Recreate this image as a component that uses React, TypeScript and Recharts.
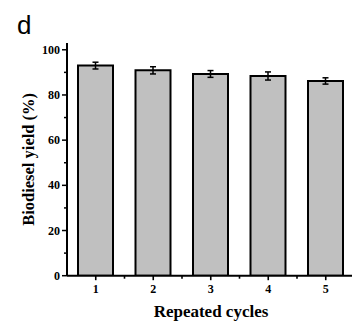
import React from 'react';
import { BarChart, Bar, XAxis, YAxis, ErrorBar } from 'recharts';

const cycles = [1, 2, 3, 4, 5];
const yieldValues = [93.0, 90.9, 89.3, 88.4, 86.2];
const yieldErrors = [1.5, 1.6, 1.5, 1.8, 1.4];
const yTicks = [0, 10, 20, 30, 40, 50, 60, 70, 80, 90, 100];

const data = cycles.map((c, i) => ({ cycle: c, value: yieldValues[i], err: yieldErrors[i] }));

const SERIF = '"Liberation Serif", "Times New Roman", serif';

const YTick = (props: any) => {
  const { x, y, payload } = props;
  const major = payload.value % 20 === 0;
  return (
    <g>
      <line x1={x - (major ? 5 : 3)} x2={x} y1={y} y2={y} stroke="#000" strokeWidth={1.5} />
      {major && (
        <text x={x - 7} y={y} dy={4} textAnchor="end" fontFamily={SERIF} fontWeight="bold" fontSize={12} fill="#000">
          {payload.value}
        </text>
      )}
    </g>
  );
};

const XTick = (props: any) => {
  const { x, y, payload, index, visibleTicksCount, width } = props;
  let half = payload && payload.offset ? payload.offset : 0;
  if (!half && width && visibleTicksCount) half = width / visibleTicksCount / 2;
  const last = index === visibleTicksCount - 1;
  return (
    <g>
      <line x1={x} x2={x} y1={y} y2={y + 4.5} stroke="#000" strokeWidth={1.6} />
      {!last && half > 0 && (
        <line x1={x + half} x2={x + half} y1={y} y2={y + 3} stroke="#000" strokeWidth={1.6} />
      )}
      <text x={x} y={y + 17} textAnchor="middle" fontFamily={SERIF} fontWeight="bold" fontSize={12} fill="#000">
        {payload.value}
      </text>
    </g>
  );
};

const YLabel = (props: any) => {
  const vb = props.viewBox;
  const cx = 29;
  const cy = vb.y + vb.height / 2;
  return (
    <text x={cx} y={cy} transform={`rotate(-90, ${cx}, ${cy})`} textAnchor="middle" dominantBaseline="central"
      fontFamily={SERIF} fontWeight="bold" fontSize={16.5} fill="#000">
      Biodiesel yield (%)
    </text>
  );
};

const XLabel = () => (
  <text x={211} y={317} textAnchor="middle" fontFamily={SERIF} fontWeight="bold" fontSize={17} fill="#000">
    Repeated cycles
  </text>
);

export default function App() {
  return (
    <div style={{ position: 'absolute', left: 0, top: 0, width: 352, height: 324, overflow: 'hidden', background: '#fff' }}>
      <div style={{ position: 'absolute', left: 17, top: 10, fontFamily: '"Liberation Sans", Arial, sans-serif', fontSize: 26, lineHeight: '30px', color: '#000' }}>d</div>
      <BarChart width={360} height={324} data={data} margin={{ top: 43, right: 5.5, left: 0, bottom: 0 }} barSize={35}>
        <XAxis dataKey="cycle" type="category" height={48.3} tickSize={0} tickMargin={0} tickLine={false}
          axisLine={{ stroke: '#000', strokeWidth: 2 }} tick={<XTick />} interval={0}
          label={<XLabel />} />
        <YAxis type="number" domain={[0, 103]} ticks={yTicks} width={67} tickSize={0} tickMargin={0} tickLine={false}
          axisLine={{ stroke: '#000', strokeWidth: 2 }} tick={<YTick />} interval={0} allowDataOverflow label={<YLabel />} />
        <Bar dataKey="value" fill="#c0c0c0" stroke="#000" strokeWidth={2} isAnimationActive={false}>
          <ErrorBar dataKey="err" width={3} stroke="#000" strokeWidth={1.5} direction="y" />
        </Bar>
      </BarChart>
    </div>
  );
}
